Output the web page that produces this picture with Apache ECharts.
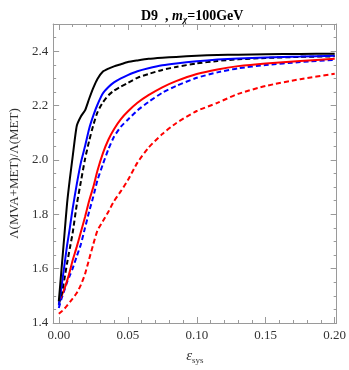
<!DOCTYPE html>
<html>
<head>
<meta charset="utf-8">
<script src="https://cdn.jsdelivr.net/npm/echarts@6/dist/echarts.min.js"></script>
<style>
  html, body { margin: 0; padding: 0; background: #fff; }
  #chart { width: 349px; height: 370px; }
</style>
</head>
<body>
<div id="chart"></div>
<script>
// epsilon_sys sample points shared by all curves
const eps = [0, 0.002, 0.004, 0.006, 0.008, 0.010, 0.013, 0.016, 0.019, 0.022, 0.025, 0.028, 0.032, 0.036,
  0.040, 0.045, 0.050, 0.057, 0.065, 0.075, 0.085, 0.1, 0.115, 0.13, 0.15, 0.175, 0.2]

const blackSolid = [1.48, 1.60, 1.72, 1.84, 1.93, 2.01, 2.125, 2.16, 2.182, 2.225, 2.265, 2.298, 2.325, 2.336,
  2.344, 2.352, 2.36, 2.366, 2.372, 2.376, 2.379, 2.383, 2.386, 2.387, 2.389, 2.390, 2.391]
const blueSolid = [1.465, 1.535, 1.61, 1.686, 1.75, 1.82, 1.91, 1.99, 2.05, 2.115, 2.163, 2.203, 2.245, 2.268,
  2.285, 2.300, 2.312, 2.326, 2.337, 2.348, 2.355, 2.363, 2.369, 2.373, 2.377, 2.380, 2.383]
const blackDashed = [1.47, 1.505, 1.56, 1.62, 1.675, 1.73, 1.835, 1.92, 2.003, 2.07, 2.128, 2.175, 2.212, 2.238,
  2.255, 2.27, 2.283, 2.302, 2.316, 2.331, 2.342, 2.355, 2.364, 2.370, 2.375, 2.379, 2.381]
const redSolid = [1.48, 1.50, 1.525, 1.555, 1.59, 1.63, 1.68, 1.735, 1.79, 1.85, 1.90, 1.96, 2.025, 2.075,
  2.113, 2.15, 2.178, 2.21, 2.238, 2.267, 2.29, 2.316, 2.333, 2.345, 2.355, 2.364, 2.372]
const blueDashed = [1.455, 1.49, 1.52, 1.55, 1.575, 1.60, 1.645, 1.69, 1.75, 1.81, 1.865, 1.925, 1.985, 2.04,
  2.085, 2.122, 2.148, 2.182, 2.213, 2.247, 2.272, 2.302, 2.322, 2.337, 2.349, 2.36, 2.368]
const redDashed = [1.434, 1.442, 1.452, 1.464, 1.477, 1.49, 1.51, 1.54, 1.58, 1.635, 1.69, 1.74, 1.775, 1.81,
  1.848, 1.885, 1.925, 1.99, 2.045, 2.095, 2.135, 2.18, 2.21, 2.243, 2.272, 2.297, 2.317]

// tick labels
const xTicks = [0, 0.05, 0.1, 0.15, 0.2]
const yTicks = [1.4, 1.6, 1.8, 2.0, 2.2, 2.4]

const xMinor = []
for (let i = 0; i <= 20; i++) if (i % 5) xMinor.push(i / 100)
const yMinor = []
for (let i = 28; i <= 50; i++) if (i % 4) yMinor.push(i / 20)

const serif = 'Liberation Serif'
const frameColor = '#9a9a9a'

function xAx (pos, ticks, len, labels, line) {
  return {
    type: 'value',
    position: pos,
    min: -0.0041,
    max: 0.2014,
    splitLine: { show: false },
    axisLine: { show: line, onZero: false, lineStyle: { color: frameColor, width: 1 } },
    axisTick: { show: true, inside: true, length: len, customValues: ticks, lineStyle: { color: frameColor } },
    axisLabel: labels
      ? { customValues: ticks, formatter: (v) => v.toFixed(2), fontFamily: serif, fontSize: 13, color: '#333', margin: 6 }
      : { show: false }
  }
}

function yAx (pos, ticks, len, labels, line) {
  return {
    type: 'value',
    position: pos,
    min: 1.4,
    max: 2.5,
    splitLine: { show: false },
    axisLine: { show: line, onZero: false, lineStyle: { color: frameColor, width: 1 } },
    axisTick: { show: true, inside: true, length: len, customValues: ticks, lineStyle: { color: frameColor } },
    axisLabel: labels
      ? { customValues: ticks, formatter: (v) => v.toFixed(1), fontFamily: serif, fontSize: 13, color: '#333', margin: 5 }
      : { show: false }
  }
}

function curve (name, ys, color, dashed) {
  return {
    name: name,
    type: 'line',
    data: eps.map((x, i) => [x, ys[i]]),
    showSymbol: false,
    smooth: 0.2,
    lineStyle: { color: color, width: 2, type: dashed ? [5, 3] : 'solid' },
    itemStyle: { color: color }
  }
}

const xMain = xAx('bottom', xTicks, 6, true, true)
xMain.name = '{i|ε}{s|sys}'
xMain.nameLocation = 'middle'
xMain.nameGap = 25
xMain.nameTextStyle = {
  rich: {
    i: { fontFamily: serif, fontStyle: 'italic', fontSize: 15, color: '#333' },
    s: { fontFamily: serif, fontSize: 9, color: '#333', padding: [8, 0, 0, 0] }
  }
}

const yMain = yAx('left', yTicks, 6, true, true)
yMain.name = 'Λ(MVA+MET)/Λ(MET)'
yMain.nameLocation = 'middle'
yMain.nameGap = 22
yMain.nameTextStyle = { fontFamily: serif, fontSize: 13, color: '#333' }

const chart = echarts.init(document.getElementById('chart'))
chart.setOption({
  animation: false,
  backgroundColor: '#fff',
  title: {
    text: '{b|D9  , }{i|m}{sub|χ}{b|=100GeV}',
    left: 136,
    top: 3,
    textStyle: {
      rich: {
        b: { fontFamily: serif, fontWeight: 'bold', fontSize: 14, color: '#000' },
        i: { fontFamily: serif, fontWeight: 'bold', fontStyle: 'italic', fontSize: 14, color: '#000' },
        sub: { fontFamily: serif, fontWeight: 'bold', fontStyle: 'italic', fontSize: 9, color: '#000', padding: [7, 0, 0, 0] }
      }
    }
  },
  grid: { left: 40, right: 8, top: 24, bottom: 42 },
  xAxis: [
    xMain,
    xAx('top', xTicks, 6, false, true),
    xAx('bottom', xMinor, 3, false, false),
    xAx('top', xMinor, 3, false, false)
  ],
  yAxis: [
    yMain,
    yAx('right', yTicks, 6, false, true),
    yAx('left', yMinor, 3, false, false),
    yAx('right', yMinor, 3, false, false)
  ],
  series: [
    curve('red dashed', redDashed, '#ff0000', true),
    curve('blue dashed', blueDashed, '#0000ff', true),
    curve('red solid', redSolid, '#ff0000', false),
    curve('black dashed', blackDashed, '#000000', true),
    curve('blue solid', blueSolid, '#0000ff', false),
    curve('black solid', blackSolid, '#000000', false)
  ]
})
</script>
</body>
</html>
